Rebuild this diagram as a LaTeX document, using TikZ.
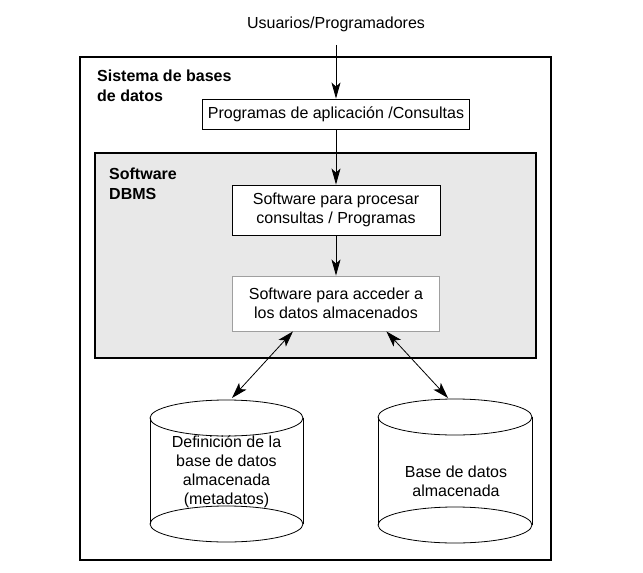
\documentclass[tikz,border=0pt]{standalone}
\usepackage{fontspec}
\setmainfont{Liberation Sans}
\usetikzlibrary{arrows.meta}

\begin{document}
\begin{tikzpicture}[x=1pt,y=-1pt,font=\fontsize{16}{19}\selectfont,
		caja/.style={draw,fill=white,line width=0.9pt,inner sep=0pt,align=center},
		titulo/.style={anchor=north west,inner sep=0pt,align=left,font=\fontsize{16}{19.5}\selectfont\bfseries},
		flecha/.style={line width=0.8pt,-{Stealth[length=16pt,width=9pt,inset=4pt]}},
		doble/.style={line width=0.8pt,{Stealth[length=16pt,width=10pt,inset=4pt]}-{Stealth[length=16pt,width=10pt,inset=4pt]}}]
			\useasboundingbox (0,0) rectangle (643,573);

			\draw[line width=1.2pt] (80,57) rectangle (551,560);
			\draw[line width=1.2pt,fill=gray!18] (95,153) rectangle (536,358);
			\node[titulo] (s) at (97,70) {Sistema de bases\\de datos};
			\node[titulo] (d) at (109,168) {Software\\DBMS};

			\node (0) at (336,24) {Usuarios/Programadores};
			\node[caja,minimum width=267pt,minimum height=30pt] (1) at (336,114) {Programas de aplicación /Consultas};
			\node[caja,minimum width=208pt,minimum height=50pt] (2) at (336,210) {Software para procesar\\consultas / Programas};
			\node[caja,draw=gray!75,minimum width=207pt,minimum height=55pt] (3) at (336,303.5) {Software para acceder a\\los datos almacenados};

			\draw[flecha,shorten <=10pt] (0) -- (1);
			\draw[flecha] (1) -- (2);
			\draw[flecha] (2) -- (3);

			\draw[line width=0.8pt] (226.5,418) ellipse [x radius=76.5pt,y radius=18pt];
			\draw[line width=0.8pt] (226.5,524) ellipse [x radius=76.5pt,y radius=18pt];
			\draw[line width=0.6pt] (150,418) -- (150,524) (303,418) -- (303,524);
			\draw[line width=0.8pt] (455,417) ellipse [x radius=77pt,y radius=18pt];
			\draw[line width=0.8pt] (455,525) ellipse [x radius=77pt,y radius=18pt];
			\draw[line width=0.6pt] (378,417) -- (378,525) (532,417) -- (532,525);
			\node[align=center] (4) at (226.5,472) {Definición de la\\base de datos\\almacenada\\(metadatos)};
			\node[align=center] (5) at (456,481) {Base de datos\\almacenada};
			\coordinate (c4) at (232,398);
			\coordinate (c5) at (448,398);

			\draw[doble] (3.213) -- (c4);
			\draw[doble] (3.331) -- (c5);
		\end{tikzpicture}
\end{document}
